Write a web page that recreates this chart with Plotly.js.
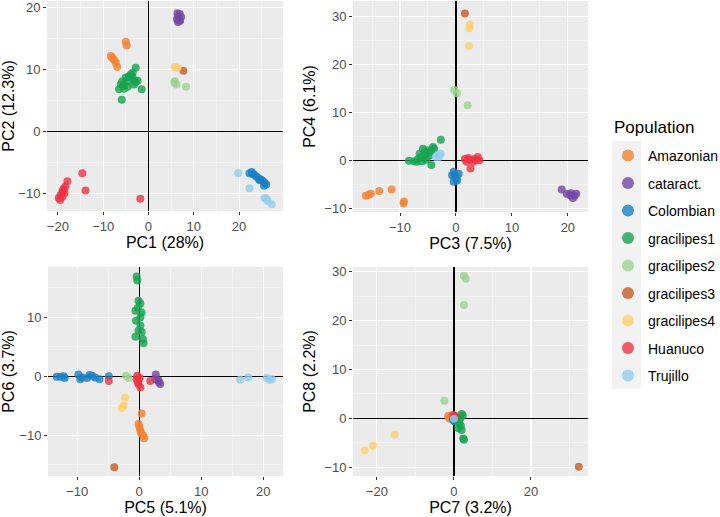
<!DOCTYPE html>
<html><head><meta charset="utf-8">
<script src="https://cdn.plot.ly/plotly-3.0.1.min.js"></script>
<style>html,body{margin:0;padding:0;background:#fff}#chart{width:720px;height:517px}</style>
</head><body><div id="chart"></div>
<script>
const populations = ['Amazonian','cataract.','Colombian','gracilipes1','gracilipes2','gracilipes3','gracilipes4','Huanuco','Trujillo'];
const popColors = ['#F3822F','#7546A4','#1A7FC4','#15A24F','#9CD38F','#C85A25','#FFCF6C','#EC3343','#92CDEE'];

// Panel 1: PC1 vs PC2
const p1_amazonian = [[-5.0,14.5],[-4.8,13.9],[-8.3,12.2],[-8.0,11.9],[-7.6,11.6],[-7.2,11.1],[-6.9,10.4]];
const p1_cataract = [[6.4,19.1],[6.9,19.0],[6.6,18.6],[7.2,18.5],[6.3,18.2],[6.8,18.0],[7.0,17.9],[6.5,17.7]];
const p1_colombian = [[22.3,-6.8],[22.8,-6.6],[23.3,-7.0],[23.8,-7.3],[24.3,-7.6],[24.8,-7.8],[25.2,-8.0],[25.6,-8.3],[26.0,-8.6],[25.5,-8.8],[24.5,-7.9],[23.0,-6.9]];
const p1_gracilipes1 = [[-2.8,10.3],[-3.5,9.5],[-3.9,9.2],[-4.3,8.9],[-5.0,8.7],[-5.8,8.1],[-6.1,7.6],[-6.5,6.8],[-5.4,6.9],[-4.6,7.2],[-3.2,7.6],[-2.8,8.0],[-3.5,8.7],[-1.5,6.8],[-5.9,5.1],[-3.2,8.2],[-2.4,8.2],[-4.8,8.0],[-5.5,7.4]];
const p1_gracilipes2 = [[5.8,8.1],[6.2,7.6],[8.3,7.2],[5.7,7.9]];
const p1_gracilipes3 = [[7.7,9.8]];
const p1_gracilipes4 = [[5.8,10.4],[6.4,10.3]];
const p1_huanuco = [[-19.8,-10.8],[-19.4,-10.3],[-19.0,-9.8],[-18.7,-9.3],[-18.3,-8.9],[-17.9,-8.1],[-19.5,-11.1],[-19.0,-10.6],[-18.5,-10.0],[-18.8,-9.5],[-14.6,-6.8],[-13.9,-9.6],[-1.8,-10.9]];
const p1_trujillo = [[19.8,-6.8],[22.3,-9.2],[25.6,-10.8],[26.3,-11.3],[27.2,-11.8],[26.0,-10.9]];

// Panel 2: PC3 vs PC4
const p2_amazonian = [[-16.1,-7.4],[-15.6,-7.2],[-15.2,-7.0],[-13.7,-6.4],[-11.5,-6.1],[-9.3,-8.6],[-9.4,-9.0]];
const p2_cataract = [[18.9,-6.1],[19.8,-7.0],[20.4,-7.3],[20.9,-7.9],[20.6,-6.9],[21.2,-7.4],[21.5,-7.0]];
const p2_colombian = [[-0.4,-2.4],[-0.1,-3.5],[0.2,-4.2],[-0.7,-3.1],[0.5,-2.8],[-0.4,-4.5],[-0.2,-3.0],[0.1,-3.8]];
const p2_gracilipes1 = [[-2.7,4.3],[-8.4,-0.1],[-7.0,-0.3],[-6.2,0.7],[-5.6,1.7],[-5.0,2.1],[-4.1,2.8],[-3.9,2.4],[-5.9,2.4],[-6.5,1.4],[-4.7,1.0],[-4.4,-1.0],[-5.3,0.1],[-6.8,0.2],[-7.5,-0.2],[-6.0,-0.2],[-5.5,1.0],[-4.5,1.8]];
const p2_gracilipes2 = [[-0.3,14.7],[0.2,14.0],[2.1,11.5]];
const p2_gracilipes3 = [[1.6,30.7]];
const p2_gracilipes4 = [[2.5,28.4],[2.4,27.6],[2.3,23.9]];
const p2_huanuco = [[1.6,0.3],[2.5,0.1],[3.3,0.3],[3.9,0.7],[4.2,0.0],[2.6,-1.7],[1.9,-0.3],[3.1,-0.3],[3.6,0.1],[2.2,0.5]];
const p2_trujillo = [[-3.3,1.0],[-2.7,1.4],[-3.0,0.7],[-3.6,0.7]];

// Panel 3: PC5 vs PC6
const p3_amazonian = [[0.4,-6.3],[-0.1,-8.1],[0.2,-9.2],[0.7,-10.1],[0.8,-10.5],[0.05,-8.6],[0.3,-9.6]];
const p3_cataract = [[2.7,0.3],[3.1,-0.7],[3.4,-1.3],[2.6,-0.5],[3.2,-1.0]];
const p3_colombian = [[-13.3,-0.1],[-12.7,-0.1],[-12.2,0.0],[-9.8,0.3],[-9.2,-0.2],[-8.4,-0.3],[-7.6,0.1],[-7.1,-0.2],[-6.4,-0.5],[-4.9,0.0],[-9.5,-0.5],[-8.0,0.2],[-12.0,-0.3]];
const p3_gracilipes1 = [[-0.4,16.9],[-0.3,16.2],[-0.1,12.8],[0.2,12.3],[-0.6,11.1],[0.4,10.8],[-0.5,9.4],[0.2,8.6],[-0.1,7.7],[-0.6,6.7],[0.6,6.3],[0.7,5.6],[0.2,10.0],[0.4,7.5],[-0.2,11.6]];
const p3_gracilipes2 = [[-2.1,0.1],[-1.7,-0.3]];
const p3_gracilipes3 = [[-4.0,-15.4]];
const p3_gracilipes4 = [[-2.3,-3.6],[-2.8,-5.4],[-2.5,-5.0]];
const p3_huanuco = [[-4.9,-0.8],[-0.4,-0.5],[-0.1,-1.3],[0.2,-1.9],[-0.3,0.1],[1.8,-0.8],[0.1,-0.3],[-0.2,-1.0]];
const p3_trujillo = [[16.3,-0.6],[17.6,-0.2],[20.6,-0.3],[21.4,-0.5],[21.0,-0.6]];

// Panel 4: PC7 vs PC8
const p4_amazonian = [[-1.5,0.5],[-1.2,0.0],[-0.8,0.3]];
const p4_cataract = [[0.0,0.2],[0.3,-0.2]];
const p4_colombian = [[-0.3,-0.3],[0.1,-0.6]];
const p4_gracilipes1 = [[2.0,0.9],[1.6,0.0],[1.4,-1.0],[1.1,-2.0],[2.0,-2.4],[2.4,-4.1],[2.6,-4.4],[0.7,0.3],[1.8,-1.5],[2.3,0.6]];
const p4_gracilipes2 = [[2.6,29.2],[3.1,28.6],[2.6,23.2],[-2.5,3.6]];
const p4_gracilipes3 = [[32.4,-9.9]];
const p4_gracilipes4 = [[-15.4,-3.3],[-21.0,-5.6],[-23.2,-6.6]];
const p4_huanuco = [[-0.2,0.7],[0.3,0.5]];
const p4_trujillo = [[0.0,-0.1]];

const axisTitles = [['PC1 (28%)','PC2 (12.3%)'],['PC3 (7.5%)','PC4 (6.1%)'],['PC5 (5.1%)','PC6 (3.7%)'],['PC7 (3.2%)','PC8 (2.2%)']];
const legendTitle = 'Population';

const panels = [
  [p1_amazonian,p1_cataract,p1_colombian,p1_gracilipes1,p1_gracilipes2,p1_gracilipes3,p1_gracilipes4,p1_huanuco,p1_trujillo],
  [p2_amazonian,p2_cataract,p2_colombian,p2_gracilipes1,p2_gracilipes2,p2_gracilipes3,p2_gracilipes4,p2_huanuco,p2_trujillo],
  [p3_amazonian,p3_cataract,p3_colombian,p3_gracilipes1,p3_gracilipes2,p3_gracilipes3,p3_gracilipes4,p3_huanuco,p3_trujillo],
  [p4_amazonian,p4_cataract,p4_colombian,p4_gracilipes1,p4_gracilipes2,p4_gracilipes3,p4_gracilipes4,p4_huanuco,p4_trujillo]
];

const W = 720, H = 517;
const pxBox = [[47,283,1,211],[353,588,1,212],[48,283,267,476],[353,588,267,476]];
const ranges = [
  [[-22.4,29.7],[-12.9,21.1]],
  [[-18.4,23.6],[-10.8,33.3]],
  [[-14.7,23.2],[-16.9,18.5]],
  [[-26.2,34.8],[-11.8,31.0]]
];
const dticks = [[10,10],[10,10],[10,10],[20,10]];

const traces = [];
panels.forEach((pan, pi) => {
  const sfx = pi === 0 ? '' : String(pi + 1);
  pan.forEach((pts, k) => {
    traces.push({
      type: 'scatter', mode: 'markers',
      x: pts.map(p => p[0]), y: pts.map(p => p[1]),
      xaxis: 'x' + sfx, yaxis: 'y' + sfx,
      name: populations[k], legendgroup: populations[k],
      showlegend: pi === 0,
      marker: {color: popColors[k], size: 8, opacity: 0.8, line: {width: 0}},
      hoverinfo: 'skip'
    });
  });
});

const layout = {
  width: W, height: H,
  margin: {l: 0, r: 0, t: 0, b: 0, autoexpand: false},
  paper_bgcolor: '#ffffff', plot_bgcolor: '#EBEBEB',
  font: {family: 'Liberation Sans, Arial, sans-serif', color: '#000'},
  showlegend: true,
  legend: {
    x: 608 / W, y: 1 - 140 / H, xanchor: 'left', yanchor: 'top',
    bgcolor: 'rgba(0,0,0,0)', traceorder: 'grouped', tracegroupgap: 6.3,
    font: {size: 14, color: '#000'}, itemsizing: 'constant'
  },
  annotations: [{
    text: legendTitle, xref: 'paper', yref: 'paper',
    x: 612 / W, y: 1 - 127 / H, xanchor: 'left', yanchor: 'middle',
    showarrow: false, font: {size: 17, color: '#000'}
  }],
  shapes: [{
    type: 'rect', xref: 'paper', yref: 'paper',
    x0: 612 / W, x1: 641 / W, y0: 1 - 389 / H, y1: 1 - 141 / H,
    fillcolor: '#F2F2F2', line: {width: 0}, layer: 'below'
  }]
};

pxBox.forEach((b, pi) => {
  const sfx = pi === 0 ? '' : String(pi + 1);
  const common = {
    showgrid: true, gridcolor: '#FFFFFF', gridwidth: 1.1,
    zeroline: true, zerolinecolor: '#000000', zerolinewidth: 1.3,
    showline: false, ticks: 'outside', ticklen: 3, tickwidth: 1, tickcolor: '#333333',
    tickfont: {size: 13, color: '#4D4D4D'}, automargin: false, fixedrange: true
  };
  layout['xaxis' + sfx] = Object.assign({}, common, {
    domain: [b[0] / W, b[1] / W], anchor: 'y' + sfx,
    range: ranges[pi][0], dtick: dticks[pi][0], tick0: 0,
    minor: {dtick: dticks[pi][0] / 2, tick0: 0, showgrid: true, gridcolor: '#F7F7F7', gridwidth: 0.6, ticks: ''},
    title: {text: axisTitles[pi][0], font: {size: 16, color: '#000'}, standoff: 4}
  });
  layout['yaxis' + sfx] = Object.assign({}, common, {
    domain: [1 - b[3] / H, 1 - b[2] / H], anchor: 'x' + sfx,
    range: ranges[pi][1], dtick: dticks[pi][1], tick0: 0,
    minor: {dtick: dticks[pi][1] / 2, tick0: 0, showgrid: true, gridcolor: '#F7F7F7', gridwidth: 0.6, ticks: ''},
    title: {text: axisTitles[pi][1], font: {size: 16, color: '#000'}, standoff: 4}
  });
});

Plotly.newPlot('chart', traces, layout, {displayModeBar: false, staticPlot: true});
</script>
</body></html>
